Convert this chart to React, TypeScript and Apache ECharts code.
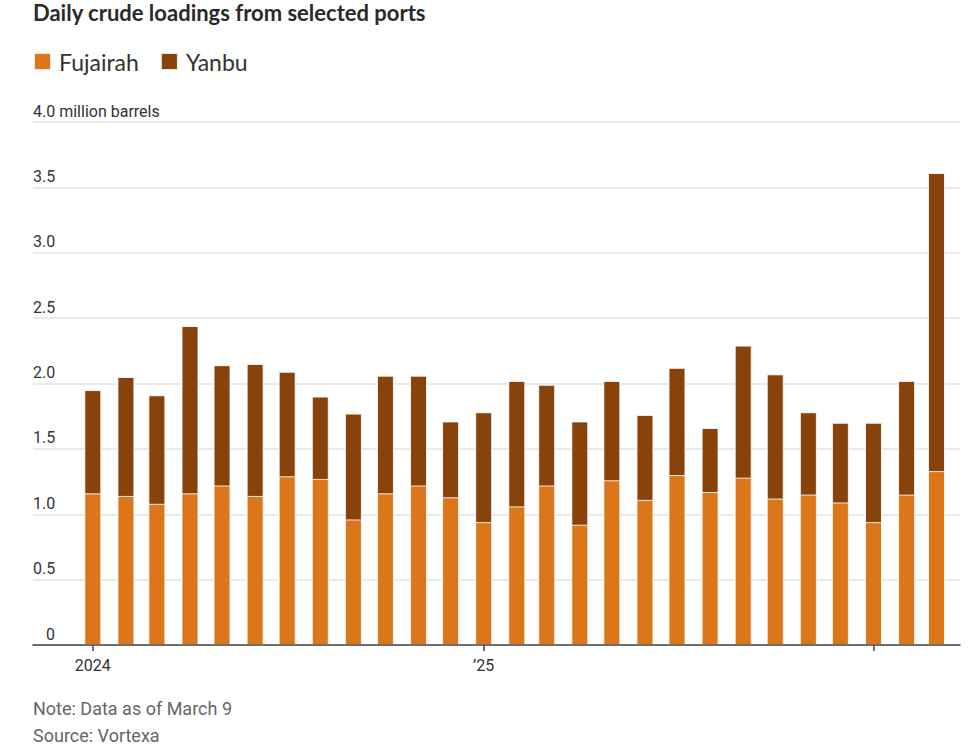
import React, { useEffect, useRef } from "react";
import * as echarts from "echarts";

const months = [
  "2024-01", "2024-02", "2024-03", "2024-04", "2024-05", "2024-06", "2024-07", "2024-08", "2024-09",
  "2024-10", "2024-11", "2024-12", "2025-01", "2025-02", "2025-03", "2025-04", "2025-05", "2025-06",
  "2025-07", "2025-08", "2025-09", "2025-10", "2025-11", "2025-12", "2026-01", "2026-02", "2026-03",
];
const fujairah = [
  1.16, 1.14, 1.08, 1.16, 1.22, 1.14, 1.29, 1.27, 0.96, 1.16, 1.22, 1.13, 0.94, 1.06, 1.22, 0.92,
  1.26, 1.11, 1.30, 1.17, 1.28, 1.12, 1.15, 1.09, 0.94, 1.15, 1.33,
];
const yanbu = [
  0.79, 0.91, 0.83, 1.28, 0.92, 1.01, 0.80, 0.63, 0.81, 0.90, 0.84, 0.58, 0.84, 0.96, 0.77, 0.79,
  0.76, 0.65, 0.82, 0.49, 1.01, 0.95, 0.63, 0.61, 0.76, 0.87, 2.28,
];
const yearTicks = ["2024-01-01", "2025-01-01", "2026-01-01"];
const yearLabels = ["2024-01-01", "2025-01-01"];
const yTicks = [0, 0.5, 1.0, 1.5, 2.0, 2.5, 3.0, 3.5, 4.0];

const ts = (s: string) => {
  const p = s.split("-").map(Number);
  return Date.UTC(p[0], p[1] - 1, p[2] || 1);
};

const TEXT = "#333333";
const NARROW = '"Liberation Sans Narrow", "Roboto", sans-serif';

export default function App() {
  const ref = useRef<HTMLDivElement>(null);
  useEffect(() => {
    if (!ref.current) return;
    const chart = echarts.init(ref.current, undefined, { renderer: "svg" });
    const barStyle = (color: string) => ({
      color,
      borderColor: "rgba(255,255,255,0.85)",
      borderWidth: 1,
    });
    // Yanbu is stacked on top of Fujairah: its bar spans from 0 to the running total,
    // and the Fujairah bar is drawn over its lower part.
    const totals = fujairah.map((f, i) => +(f + yanbu[i]).toFixed(2));
    chart.setOption({
      animation: false,
      backgroundColor: "#ffffff",
      title: {
        text: "Daily crude loadings from selected ports",
        left: 33,
        top: 1,
        padding: 0,
        textStyle: { fontFamily: "Lato, sans-serif", fontWeight: "bold", fontSize: 22, color: "#2a2a2a" },
      },
      legend: {
        left: 33,
        top: 50,
        padding: 0,
        icon: "rect",
        itemWidth: 17,
        itemHeight: 17,
        itemGap: 21,
        textStyle: { fontFamily: "Lato, sans-serif", fontSize: 23, color: TEXT, padding: [0, 0, 0, 3] },
        data: ["Fujairah", "Yanbu"],
      },
      grid: { left: 33, right: 12, top: 122, bottom: 105, containLabel: false },
      xAxis: {
        type: "value",
        z: 10,
        min: Date.UTC(2023, 10, 6),
        max: Date.UTC(2026, 2, 23),
        splitLine: { show: false },
        axisLine: { show: true, lineStyle: { color: "#444", width: 1.5 } },
        axisTick: {
          show: true,
          length: 6,
          lineStyle: { color: "#444", width: 1.5 },
          customValues: yearTicks.map(ts),
        },
        axisLabel: {
          customValues: yearLabels.map(ts),
          margin: 12,
          fontFamily: NARROW,
          fontSize: 16,
          color: TEXT,
          formatter: (v: number) => {
            const y = new Date(v).getUTCFullYear();
            return y === 2024 ? "2024" : "\u2019" + String(y).slice(2);
          },
        },
      },
      yAxis: {
        type: "value",
        min: 0,
        max: 4,
        interval: 0.5,
        axisLine: { show: false },
        axisTick: { show: false },
        splitLine: { show: true, lineStyle: { color: "#e3e3e3", width: 1.5 } },
        axisLabel: {
          inside: true,
          margin: 0,
          align: "left",
          verticalAlign: "bottom",
          padding: [0, 0, 3, 0],
          fontFamily: NARROW,
          fontSize: 16,
          color: TEXT,
          formatter: (v: number) => {
            if (v === 0) return "{z|0}";
            if (v === 4) return yTicks[8].toFixed(1) + " million barrels";
            return v.toFixed(1);
          },
          rich: { z: { width: 22, align: "right", fontFamily: NARROW, fontSize: 16, color: TEXT } },
        },
      },
      series: [
        {
          name: "Yanbu",
          type: "bar",
          barWidth: 17,
          barGap: "-100%",
          z: 2,
          itemStyle: barStyle("#88430C"),
          data: months.map((m, i) => [ts(m), totals[i]]),
        },
        {
          name: "Fujairah",
          type: "bar",
          barWidth: 17,
          barGap: "-100%",
          z: 3,
          itemStyle: barStyle("#DC761A"),
          data: months.map((m, i) => [ts(m), fujairah[i]]),
        },
      ],
      graphic: [
        {
          type: "text",
          left: 33,
          top: 699,
          style: { text: "Note: Data as of March 9", fontFamily: NARROW, fontSize: 18, fill: "#666666" },
        },
        {
          type: "text",
          left: 33,
          top: 726,
          style: { text: "Source: Vortexa", fontFamily: NARROW, fontSize: 18, fill: "#666666" },
        },
      ],
    });
    return () => chart.dispose();
  }, []);
  return (
    <div
      ref={ref}
      style={{ position: "fixed", left: 0, top: 0, width: 972, height: 750 }}
    />
  );
}
